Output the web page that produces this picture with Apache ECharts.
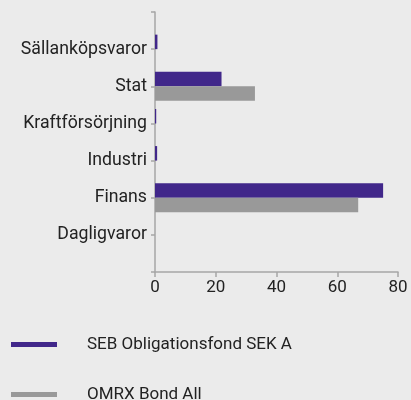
<!DOCTYPE html>
<html lang="sv">
<head>
<meta charset="UTF-8">
<title>Sektorfördelning</title>
<script src="https://cdn.jsdelivr.net/npm/echarts@6/dist/echarts.min.js"></script>
<style>
  html, body { margin: 0; padding: 0; background: #ebebeb; }
  #chart { width: 411px; height: 400px; }
</style>
</head>
<body>
<div id="chart"></div>
<script>
// kategorier uppifrån och ned, tomma platser i kanterna ger luft mot axeländarna
var categories = ['', 'Sällanköpsvaror', 'Stat', 'Kraftförsörjning', 'Industri', 'Finans', 'Dagligvaror', ''];
var sebValues = [null, 0.8, 21.9, 0.4, 0.7, 75.1, 0, null];
var omrxValues = [null, 0, 32.9, 0, 0, 66.9, 0, null];
var xTicks = [0, 20, 40, 60, 80];
var seriesNames = ['SEB Obligationsfond SEK A', 'OMRX Bond All'];

var purple = '#41278a';
var grey = '#999999';
var font = 'Roboto';
var fs = 17;

// en legend per rad så att raderna hamnar som i förlagan
function legendRow(name, top) {
    return {
        orient: 'vertical',
        left: 11,
        top: top,
        padding: 0,
        icon: 'rect',
        itemWidth: 46,
        itemHeight: 5,
        textStyle: { fontSize: fs, color: '#222', padding: [0, 0, 0, 25], fontFamily: font },
        data: [name]
    };
}

var chart = echarts.init(document.getElementById('chart'));
chart.setOption({
    backgroundColor: '#ebebeb',
    animation: false,
    textStyle: { fontFamily: font },
    grid: { left: 155, right: 13, top: 12, bottom: 128, containLabel: false },
    legend: [legendRow(seriesNames[0], 336), legendRow(seriesNames[1], 386)],
    xAxis: {
        type: 'value',
        min: xTicks[0],
        max: xTicks[xTicks.length - 1],
        interval: 20,
        axisLine: { show: true, lineStyle: { color: '#a6a6a6', width: 1.5 } },
        axisTick: { show: true, length: 5, lineStyle: { color: '#a6a6a6', width: 1.5 } },
        splitLine: { show: false },
        axisLabel: { fontSize: fs, color: '#222', margin: 7 }
    },
    yAxis: {
        type: 'category',
        inverse: true,
        boundaryGap: false,
        data: categories,
        axisLine: { show: true, lineStyle: { color: '#a6a6a6', width: 1.5 } },
        axisTick: { show: true, length: 4, lineStyle: { color: '#a6a6a6', width: 1.5 } },
        axisLabel: { fontSize: 17.7, color: '#222', margin: 8 }
    },
    series: [
        {
            name: seriesNames[0],
            type: 'bar',
            data: sebValues,
            barWidth: 14.5,
            barGap: '0%',
            itemStyle: { color: purple }
        },
        {
            name: seriesNames[1],
            type: 'bar',
            data: omrxValues,
            barWidth: 14.5,
            barGap: '0%',
            itemStyle: { color: grey }
        }
    ]
});
</script>
</body>
</html>
